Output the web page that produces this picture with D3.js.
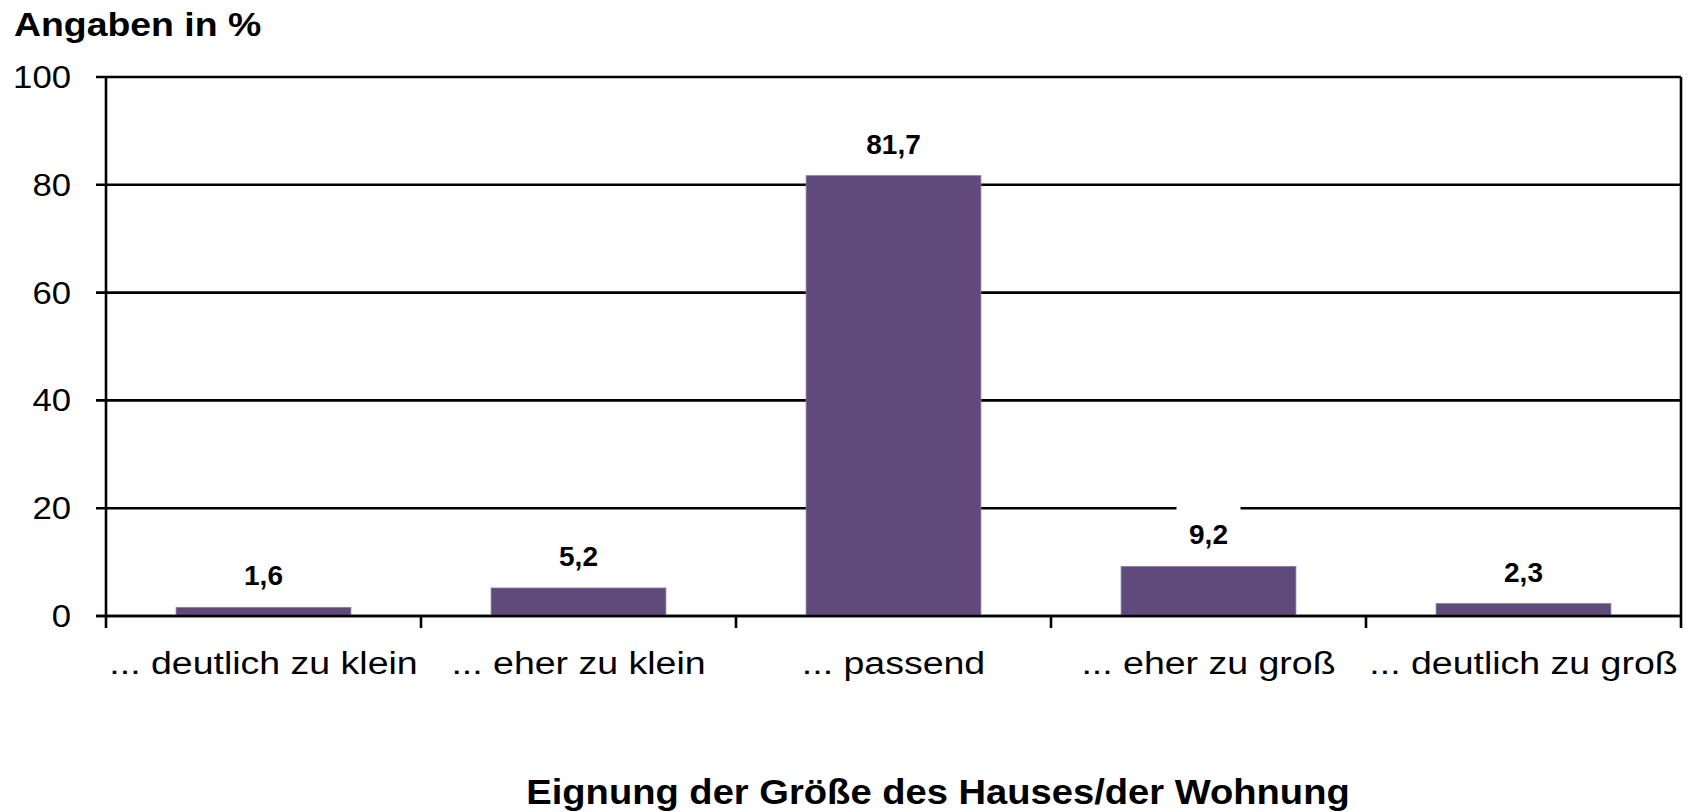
<!DOCTYPE html>
<html>
<head>
<meta charset="utf-8">
<script src="https://cdn.jsdelivr.net/npm/d3@7"></script>
<style>
  body { margin: 0; background: #fff; }
  text { font-family: "Liberation Sans", Arial, sans-serif; fill: #000; }
</style>
</head>
<body>
<svg id="chart"></svg>
<script>
var categories = ['... deutlich zu klein', '... eher zu klein', '... passend', '... eher zu groß', '... deutlich zu groß'];
var values = [1.6, 5.2, 81.7, 9.2, 2.3];
var value_labels = ['1,6', '5,2', '81,7', '9,2', '2,3'];
var y_ticks = [0, 20, 40, 60, 80, 100];

var chart_w = 1698, chart_h = 812;
var plot_left = 106, plot_right = 1681, plot_top = 77, plot_bottom = 616;
var bar_pad = 0.445;
var bar_color = '#604a7b';

var svg = d3.select('#chart').attr('width', chart_w).attr('height', chart_h);

var x = d3.scaleBand().domain(categories).range([plot_left, plot_right])
  .paddingInner(bar_pad).paddingOuter(bar_pad / 2);
var slot = d3.scaleLinear().domain([0, categories.length]).range([plot_left, plot_right]);
var y = d3.scaleLinear().domain([0, 100]).range([plot_bottom, plot_top]);

// horizontal grid lines incl. y ticks
svg.selectAll('.grid')
  .data(y_ticks)
  .enter()
  .append('line')
    .attr('class', 'grid')
    .attr('x1', plot_left - 10)
    .attr('x2', plot_right)
    .attr('y1', d => y(d))
    .attr('y2', d => y(d))
    .style('stroke', '#000')
    .style('stroke-width', 2.6);

// y axis line
svg.append('line')
  .attr('x1', plot_left).attr('x2', plot_left)
  .attr('y1', y(100)).attr('y2', y(0) + 12)
  .style('stroke', '#000').style('stroke-width', 2.6);

// category separators (last one is the right border)
svg.selectAll('.xtick')
  .data(d3.range(1, categories.length + 1))
  .enter()
  .append('line')
    .attr('class', 'xtick')
    .attr('x1', d => slot(d))
    .attr('x2', d => slot(d))
    .attr('y1', d => d == categories.length ? y(100) : y(0))
    .attr('y2', y(0) + 12)
    .style('stroke', '#000')
    .style('stroke-width', 2.6);

// bars
svg.selectAll('.bar')
  .data(values)
  .enter()
  .append('rect')
    .attr('class', 'bar')
    .attr('x', (d, i) => x(categories[i]))
    .attr('width', x.bandwidth())
    .attr('y', d => y(d))
    .attr('height', d => y(0) - y(d))
    .style('fill', bar_color)
    .style('stroke', '#8c7ca6')
    .style('stroke-width', 0.8);

// x axis line on top of bars
svg.append('line')
  .attr('x1', plot_left - 10).attr('x2', plot_right)
  .attr('y1', y(0)).attr('y2', y(0))
  .style('stroke', '#000').style('stroke-width', 2.6);

// value labels with white boxes
var lab = svg.selectAll('.vlabel')
  .data(values)
  .enter()
  .append('g')
    .attr('class', 'vlabel')
    .attr('transform', (d, i) => 'translate(' + (x(categories[i]) + x.bandwidth() / 2) + ',' + (y(d) - 22) + ')');
lab.append('rect')
  .attr('x', -32).attr('width', 64)
  .attr('y', -42).attr('height', 48)
  .style('fill', '#fff');
lab.append('text')
  .attr('text-anchor', 'middle')
  .style('font-size', '28px')
  .style('font-weight', 'bold')
  .text((d, i) => value_labels[i]);

// y tick labels
svg.selectAll('.ylabel')
  .data(y_ticks)
  .enter()
  .append('text')
    .attr('class', 'ylabel')
    .attr('text-anchor', 'end')
    .attr('transform', d => 'translate(71,' + (y(d) + 11) + ') scale(1.12,1)')
    .style('font-size', '31px')
    .text(d => d);

// category labels
svg.selectAll('.xlabel')
  .data(categories)
  .enter()
  .append('text')
    .attr('class', 'xlabel')
    .attr('text-anchor', 'middle')
    .attr('transform', d => 'translate(' + (x(d) + x.bandwidth() / 2) + ',674) scale(1.21,1)')
    .style('font-size', '31px')
    .text(d => d);

svg.append('text')
  .attr('transform', 'translate(14,36) scale(1.1,1)')
  .style('font-size', '34px')
  .style('font-weight', 'bold')
  .text('Angaben in %');

svg.append('text')
  .attr('text-anchor', 'middle')
  .attr('transform', 'translate(938,804) scale(1.09,1)')
  .style('font-size', '35px')
  .style('font-weight', 'bold')
  .text('Eignung der Größe des Hauses/der Wohnung');
</script>
</body>
</html>
